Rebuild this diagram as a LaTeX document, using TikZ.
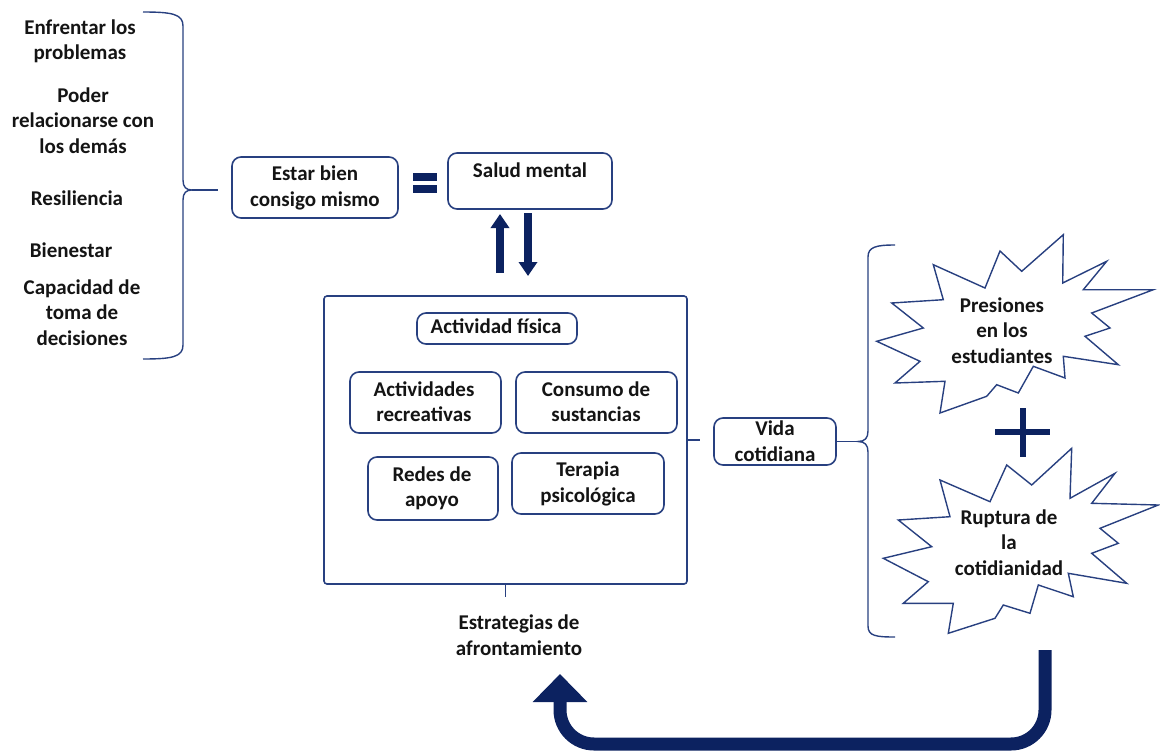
\documentclass[tikz,border=0pt]{standalone}
\usepackage{fontspec}
\setmainfont{Carlito}
\usetikzlibrary{arrows.meta}
\definecolor{boxblue}{RGB}{40,64,128}
\definecolor{navy}{RGB}{12,34,96}
\definecolor{ink}{RGB}{20,20,20}

\begin{document}
\begin{tikzpicture}[x=1pt,y=-1pt,
  txt/.style={font=\fontsize{21}{25.5}\selectfont\bfseries, text=ink, align=center, inner sep=0pt, anchor=base},
  bx/.style={draw=boxblue, line width=1.6pt, rounded corners=9pt, inner sep=0pt, fill=white},
  thinline/.style={draw=boxblue, line width=1.4pt},
  bar/.style={fill=navy, inner sep=0pt, minimum width=24pt, minimum height=8.5pt},
  fat/.style={draw=navy, line width=8pt, -{Triangle[width=18pt,length=14pt]}},
]
\useasboundingbox (0,0) rectangle (1160,752);

% ---------- left list and its brace ----------
\node[txt] (t1) at (80,60)  {Enfrentar los\\problemas};
\node[txt] (t2) at (83,153) {Poder\\relacionarse con\\los demás};
\node[txt] (t3) at (77,205) {Resiliencia};
\node[txt] (t4) at (71,257) {Bienestar};
\node[txt] (t5) at (82,345) {Capacidad de\\toma de\\decisiones};

\coordinate (lb-tip) at (192,190);
\coordinate (lb-end) at (218,190);
\draw[thinline] (143,12) .. controls (172,12) and (183,14) .. (183,26) -- (183,180)
  .. controls (183,187) and (186,190) .. (lb-tip)
  .. controls (186,190) and (183,193) .. (183,200) -- (183,345)
  .. controls (183,357) and (172,359) .. (143,359);
\draw[thinline] (lb-tip) -- (lb-end);

% ---------- definition: estar bien = salud mental ----------
\node[bx, minimum width=166pt, minimum height=61pt] (estar) at (315,187.5) {};
\node[txt] (estar-t) at (315,206) {Estar bien\\consigo mismo};

\node[bar] (eqa) at (425,177) {};
\node[bar] (eqb) at (425,189) {};

\node[bx, minimum width=164pt, minimum height=56pt] (salud) at (530,181) {};
\node[txt] (salud-t) at (530,177) {Salud mental};

% two-way link between health and strategies
\coordinate (upfrom) at (500,273);
\coordinate (upto)   at (500,214);
\coordinate (dnfrom) at (528,213);
\coordinate (dnto)   at (528,276);
\draw[fat] (upfrom) -- (upto);
\draw[fat] (dnfrom) -- (dnto);

% ---------- coping strategies ----------
\node[draw=boxblue, line width=1.6pt, rounded corners=3pt, minimum width=363pt, minimum height=288pt, inner sep=0pt] (big) at (505.5,440) {};

\node[bx, minimum width=160pt, minimum height=31pt] (fis) at (497,328.5) {};
\node[txt] (fis-t) at (496,333) {Actividad física};

\node[bx, minimum width=151pt, minimum height=61pt] (rec) at (425.5,402.5) {};
\node[txt] (rec-t) at (424,421.5) {Actividades\\recreativas};

\node[bx, minimum width=161pt, minimum height=61pt] (cons) at (596.5,402.5) {};
\node[txt] (cons-t) at (596,421.5) {Consumo de\\sustancias};

\node[bx, minimum width=130pt, minimum height=63pt] (redes) at (433,488.5) {};
\node[txt] (redes-t) at (432,506.5) {Redes de\\apoyo};

\node[bx, minimum width=152pt, minimum height=61pt] (ter) at (588,483.5) {};
\node[txt] (ter-t) at (588,502) {Terapia\\psicológica};

\coordinate (big-r) at (700,440);
\coordinate (big-b) at (505.5,597);
\draw[thinline] (big.east) -- (big-r);
\draw[thinline] (big.south) -- (big-b);

\node[txt] (estr) at (519,655) {Estrategias de\\afrontamiento};

% ---------- daily life ----------
\node[bx, minimum width=122pt, minimum height=47pt] (vida) at (775,441.5) {};
\node[txt] (vida-t) at (775,461) {Vida\\cotidiana};

\coordinate (rb-tip) at (858,441.5);
\draw[thinline] (vida.east) -- (rb-tip);
\draw[thinline] (895,245) .. controls (876,245) and (868,247) .. (868,257) -- (868,431)
  .. controls (868,438) and (865,441.5) .. (rb-tip)
  .. controls (865,441.5) and (868,445) .. (868,452) -- (868,626)
  .. controls (868,636) and (876,637) .. (895,637);

% burst: pressure on students
\draw[thinline, fill=white, line join=miter]
  (1000,251) -- (1021.7,271.3) -- (1063.3,234.7) -- (1062.7,283) -- (1106.7,261.3)
  -- (1083.3,289.7) -- (1153.3,289.7) -- (1091.7,313) -- (1110,328) -- (1085,336.3)
  -- (1118.3,364.7) -- (1063.3,356.3) -- (1065,378) -- (1033.3,366.3) -- (1018.3,393)
  -- (996.7,384.7) -- (986.7,396.3) -- (940,413) -- (945,381.3) -- (895,383)
  -- (920,361.3) -- (876.7,341.3) -- (923.3,328) -- (891.7,303) -- (943.3,299.7)
  -- (933.3,264.7) -- (985,288) -- cycle;
\node[txt] (pres) at (1002,363) {Presiones\\en los\\estudiantes};

% plus sign
\coordinate (plh1) at (995,432);
\coordinate (plh2) at (1050,432);
\coordinate (plv1) at (1023,408);
\coordinate (plv2) at (1023,457);
\draw[navy, line width=6pt] (plh1) -- (plh2);
\draw[navy, line width=6pt] (plv1) -- (plv2);

% burst: break of routine
\draw[thinline, fill=white, line join=miter]
  (940,480) -- (990,501.7) -- (1006.7,465) -- (1031.7,485) -- (1071.7,448.3)
  -- (1070,498.3) -- (1115,473.3) -- (1091.7,503.3) -- (1158.3,505) -- (1100,528.3)
  -- (1118.3,543.3) -- (1091.7,553.3) -- (1126.7,583.3) -- (1068.3,573.3) -- (1073.3,596.7)
  -- (1038.3,585) -- (1030,613.3) -- (1003.3,605) -- (995,618.3) -- (948.3,633.3)
  -- (953.3,603.3) -- (903.3,603.3) -- (928.3,581.7) -- (883.3,558.3) -- (931.7,546.7)
  -- (898.3,520) -- (950,516.7) -- cycle;
\node[txt] (rupt) at (1009,575) {Ruptura de\\la\\cotidianidad};

% feedback loop back to the coping strategies
\coordinate (loop-start) at (1045,650);
\coordinate (loop-tip) at (560,674);
\draw[navy, line width=13pt, rounded corners=34pt, -{Triangle[width=53pt,length=28pt]}]
  (loop-start) -- (1045,744) -- (560,744) -- (loop-tip);
\end{tikzpicture}
\end{document}
